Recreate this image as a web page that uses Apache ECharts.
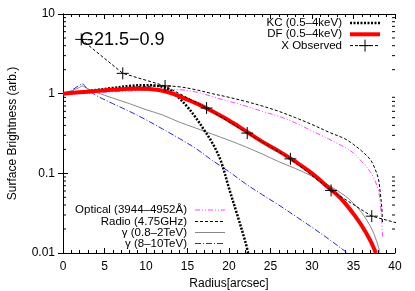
<!DOCTYPE html>
<html><head><meta charset="utf-8">
<script src="https://cdn.jsdelivr.net/npm/echarts/dist/echarts.min.js"></script>
<style>html,body{margin:0;padding:0;background:#fff}#c{width:415px;height:291px}</style>
</head><body><div id="c"></div><script>
// ---- data ----
const xTicks = [0, 5, 10, 15, 20, 25, 30, 35, 40];
const yTickLabels = ['0.01', '0.1', '1', '10'];
const yMinorTicks = [0.02,0.03,0.04,0.05,0.06,0.07,0.08,0.09,0.2,0.3,0.4,0.5,0.6,0.7,0.8,0.9,2,3,4,5,6,7,8,9];

const kcX = [0,2,4,6,8,10,11,12,13,14,15,16,17,18,19,20,21,22,22.3];
const kcY = [1.0,1.05,1.11,1.18,1.25,1.28,1.27,1.22,1.08,0.88,0.68,0.5,0.35,0.24,0.145,0.065,0.03,0.0135,0.01];

const dfX = [0,2,4,6,8,10,11,12,13,14,15,16,17,18,20,22,24,26,28,30,32,33,34,35,36,37,37.7];
const dfY = [1.0,1.04,1.08,1.12,1.15,1.15,1.13,1.09,1.02,0.93,0.84,0.76,0.68,0.6,0.46,0.34,0.25,0.19,0.14,0.1,0.066,0.054,0.042,0.031,0.022,0.0145,0.01];

const obsX = [2.2,7.2,12.3,17.3,22.2,27.4,32.3,37.2,42.2];
const obsY = [4.8,1.8,1.25,0.66,0.32,0.152,0.061,0.029,0.021];

const optX = [0,4,8,12,14,16,18,20,22,24,26,28,30,32,34,35,36,37,37.5,38,38.2,38.4,38.5];
const optY = [1.0,1.03,1.08,1.12,1.12,1.05,0.92,0.8,0.7,0.6,0.52,0.43,0.34,0.27,0.21,0.18,0.14,0.105,0.085,0.062,0.045,0.025,0.016];

const radX = [0,3,6,9,12,14,16,18,20,22,24,26,28,30,32,34,35,36,37,37.5,38,38.2,38.4,38.5];
const radY = [1.0,1.07,1.15,1.22,1.25,1.22,1.12,1.0,0.9,0.8,0.7,0.6,0.5,0.41,0.33,0.27,0.23,0.19,0.15,0.12,0.085,0.06,0.038,0.024];

const g1X = [0,1,2,2.3,3,4,6,8,10,12,14,16,18,20,22,24,26,28,30,32,34,35,36,37,37.5,38,38.2];
const g1Y = [1.0,1.08,1.2,1.25,1.15,1.04,0.88,0.75,0.63,0.54,0.44,0.37,0.31,0.26,0.215,0.175,0.14,0.115,0.092,0.071,0.052,0.042,0.032,0.022,0.017,0.012,0.01];

const g2X = [0,1,2,2.3,3,4,6,8,10,12,14,16,18,20,22,24,26,28,30,32,34,34.3];
const g2Y = [1.0,1.1,1.28,1.33,1.12,0.95,0.75,0.6,0.47,0.36,0.275,0.205,0.145,0.105,0.074,0.054,0.04,0.029,0.021,0.015,0.0105,0.01];

const titleText = 'G21.5\u22120.9';
const legendTop = ['KC (0.5\u20134keV)', 'DF (0.5\u20134keV)', 'X Observed'];
const legendBottom = ['Optical (3944\u20134952\u00C5)', 'Radio (4.75GHz)', '\u03B3 (0.8\u20132TeV)', '\u03B3 (8\u201310TeV)'];

// ---- chart ----
const zip = (xs, ys) => xs.map((x, i) => [x, ys[i]]);
const FONT = 'Liberation Sans, Arial, sans-serif';
const chart = echarts.init(document.getElementById('c'), null, {renderer: 'canvas'});
const cross = 'path://M0,5L10,5M5,0L5,10';

const lineSeries = (name, data, color, width, type, extra) => Object.assign({
  name, type: 'line', data, showSymbol: false, symbol: 'none', smooth: 0.35,
  lineStyle: {color, width, type}, itemStyle: {color}, silent: true, animation: false, clip: true, z: 2
}, extra || {});

const axisCommon = {
  axisLine: {show: true, lineStyle: {color: '#000', width: 1}},
  splitLine: {show: false}
};

const legendGraphics = [];
const fs = 11.5;
// top-right legend
const trY = [23, 34.3, 45.6];
const trStyles = [
  {stroke: '#000', lineWidth: 2.5, lineDash: [2, 1.5]},
  {stroke: '#ff0000', lineWidth: 4},
  {stroke: '#000', lineWidth: 1, lineDash: [3, 2]}
];
legendTop.forEach((t, i) => {
  legendGraphics.push({type: 'text', x: 342, y: trY[i], style: {text: t, font: fs + 'px ' + FONT, fill: '#000', textAlign: 'right', textVerticalAlign: 'middle'}});
  legendGraphics.push({type: 'line', shape: {x1: 350, y1: trY[i], x2: 380, y2: trY[i]}, style: trStyles[i]});
});
legendGraphics.push({type: 'line', shape: {x1: 359, y1: trY[2], x2: 371, y2: trY[2]}, style: {stroke: '#000', lineWidth: 1}});
legendGraphics.push({type: 'line', shape: {x1: 365, y1: trY[2] - 6, x2: 365, y2: trY[2] + 6}, style: {stroke: '#000', lineWidth: 1}});
// bottom-left legend
const blY = [210, 221.5, 232.5, 243.5];
const blStyles = [
  {stroke: '#ff44ff', lineWidth: 1, lineDash: [5, 2, 1, 2, 1, 2]},
  {stroke: '#000', lineWidth: 1, lineDash: [3, 2]},
  {stroke: '#888', lineWidth: 1},
  {stroke: '#2222ff', lineWidth: 1, lineDash: [6, 2, 1, 2]}
];
legendBottom.forEach((t, i) => {
  legendGraphics.push({type: 'text', x: 187, y: blY[i], style: {text: t, font: fs + 'px ' + FONT, fill: '#000', textAlign: 'right', textVerticalAlign: 'middle'}});
  legendGraphics.push({type: 'line', shape: {x1: 195, y1: blY[i], x2: 225, y2: blY[i]}, style: blStyles[i]});
});
legendGraphics.push({type: 'text', x: 80, y: 40, style: {text: titleText, font: '18px ' + FONT, fill: '#000', textAlign: 'left', textVerticalAlign: 'middle'}});

const option = {
  animation: false,
  backgroundColor: '#fff',
  grid: {left: 63, right: 20, top: 14, bottom: 38, containLabel: false, outerBoundsMode: 'none'},
  xAxis: [
    Object.assign({
      type: 'value', min: 0, max: 40, interval: 5, position: 'bottom',
      axisTick: {show: true, inside: true, length: 5, lineStyle: {color: '#000'}},
      minorTick: {show: true, splitNumber: 5, length: 3, lineStyle: {color: '#000'}},
      axisLabel: {show: true, fontSize: 12, color: '#000', fontFamily: FONT, margin: 8,
        formatter: v => xTicks.includes(v) ? String(v) : ''},
      name: 'Radius[arcsec]', nameLocation: 'middle', nameGap: 22,
      nameTextStyle: {fontSize: 12, color: '#000', fontFamily: FONT}
    }, axisCommon),
    Object.assign({
      type: 'value', min: 0, max: 40, interval: 5, position: 'top',
      axisTick: {show: true, inside: true, length: 5, lineStyle: {color: '#000'}},
      minorTick: {show: true, splitNumber: 5, length: 3, lineStyle: {color: '#000'}},
      axisLabel: {show: false}
    }, axisCommon)
  ],
  yAxis: [
    Object.assign({
      type: 'log', logBase: 10, min: 0.01, max: 10, position: 'left',
      axisTick: {show: true, inside: true, length: 5, lineStyle: {color: '#000'}},
      axisLabel: {show: true, fontSize: 12, color: '#000', fontFamily: FONT, margin: 8,
        formatter: v => yTickLabels[Math.round(Math.log10(v)) + 2]},
      name: 'Surface Brightness (arb.)', nameLocation: 'middle', nameGap: 44,
      nameTextStyle: {fontSize: 12, color: '#000', fontFamily: FONT}
    }, axisCommon),
    Object.assign({
      type: 'log', logBase: 10, min: 0.01, max: 10, position: 'right',
      axisTick: {show: true, inside: true, length: 5, lineStyle: {color: '#000'}},
      axisLabel: {show: false}
    }, axisCommon)
  ],
  graphic: legendGraphics,
  series: [
    lineSeries('gamma1', zip(g1X, g1Y), '#888888', 1, 'solid'),
    lineSeries('gamma2', zip(g2X, g2Y), '#2222ff', 1, [6, 2, 1, 2]),
    lineSeries('optical', zip(optX, optY), '#ff44ff', 1, [5, 2, 1, 2, 1, 2]),
    lineSeries('radio', zip(radX, radY), '#000000', 1, [3, 2]),
    lineSeries('KC', zip(kcX, kcY), '#000000', 2.5, [2, 1.5]),
    lineSeries('DF', zip(dfX, dfY), '#ff0000', 4, 'solid'),
    {
      name: 'X Observed', type: 'line', data: zip(obsX, obsY), smooth: false,
      symbol: cross, symbolSize: 12, showSymbol: true,
      itemStyle: {color: 'rgba(0,0,0,0)', borderColor: '#000', borderWidth: 1},
      lineStyle: {color: '#000', width: 1, type: [3, 2]},
      silent: true, clip: true, z: 4
    },
    {
      type: 'custom', xAxisIndex: 0, yAxisIndex: 0, silent: true, clip: false, z: 5,
      data: yMinorTicks.map(v => [0, v]),
      renderItem: (params, api) => {
        const v = api.value(1);
        const l = api.coord([0, v]);
        const r = api.coord([40, v]);
        return {type: 'group', children: [
          {type: 'line', shape: {x1: l[0], y1: l[1], x2: l[0] + 3, y2: l[1]}, style: {stroke: '#000', lineWidth: 1}},
          {type: 'line', shape: {x1: r[0], y1: r[1], x2: r[0] - 3, y2: r[1]}, style: {stroke: '#000', lineWidth: 1}}
        ]};
      }
    }
  ]
};
chart.setOption(option);
</script></body></html>
